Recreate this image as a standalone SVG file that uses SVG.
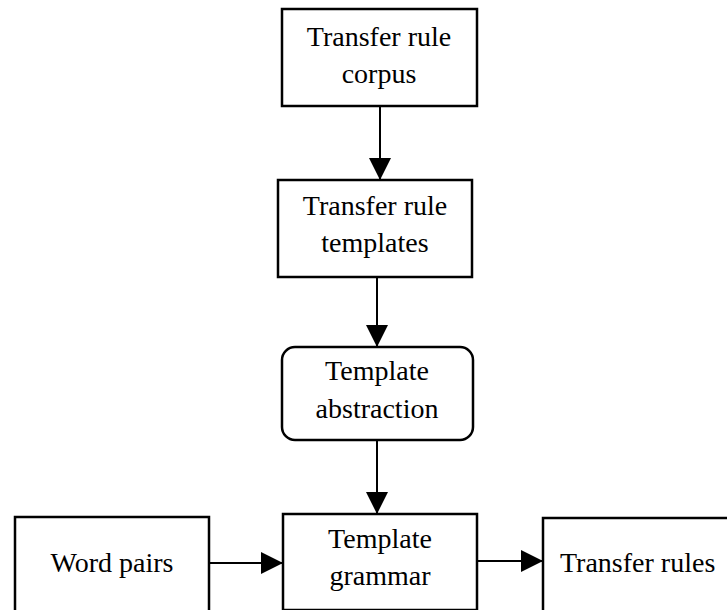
<svg xmlns="http://www.w3.org/2000/svg" width="727" height="610" viewBox="0 0 727 610">
<style>
.box{fill:#fff;stroke:#000;stroke-width:2.5}
.lbl{font-family:"Liberation Serif","Times New Roman",serif;font-size:28px;fill:#000;text-anchor:middle}
.con{stroke:#000;stroke-width:2;fill:none}
</style>
<defs>
<marker id="ah" markerUnits="userSpaceOnUse" markerWidth="22" markerHeight="22" refX="22" refY="11" orient="auto">
<path d="M0,0 L22,11 L0,22 Z" fill="#000"/>
</marker>
</defs>
<rect width="727" height="610" fill="#fff"/>
<g id="corpus">
<rect class="box" x="282" y="9" width="195" height="97"/>
<text class="lbl" x="379" y="46">Transfer rule</text>
<text class="lbl" x="379" y="83">corpus</text>
</g>
<g id="templates">
<rect class="box" x="278" y="180" width="194" height="97"/>
<text class="lbl" x="375" y="215">Transfer rule</text>
<text class="lbl" x="375" y="252">templates</text>
</g>
<g id="abstraction">
<rect class="box" x="282" y="347" width="191" height="93" rx="13" ry="13"/>
<text class="lbl" x="377" y="380">Template</text>
<text class="lbl" x="377" y="418">abstraction</text>
</g>
<g id="grammar">
<rect class="box" x="283" y="514" width="194" height="96"/>
<text class="lbl" x="380" y="548">Template</text>
<text class="lbl" x="380" y="585">grammar</text>
</g>
<g id="wordpairs">
<rect class="box" x="15" y="517" width="194" height="96"/>
<text class="lbl" x="112" y="572">Word pairs</text>
</g>
<g id="rules">
<rect class="box" x="543" y="518" width="190" height="96"/>
<text class="lbl" x="560" y="572" style="text-anchor:start">Transfer rules</text>
</g>
<g id="connectors">
<line class="con" x1="380" y1="106" x2="380" y2="180" marker-end="url(#ah)"/>
<line class="con" x1="377" y1="277" x2="377" y2="347" marker-end="url(#ah)"/>
<line class="con" x1="377" y1="440" x2="377" y2="514" marker-end="url(#ah)"/>
<line class="con" x1="209" y1="563" x2="283" y2="563" marker-end="url(#ah)"/>
<line class="con" x1="477" y1="561" x2="543" y2="561" marker-end="url(#ah)"/>
</g>
</svg>
